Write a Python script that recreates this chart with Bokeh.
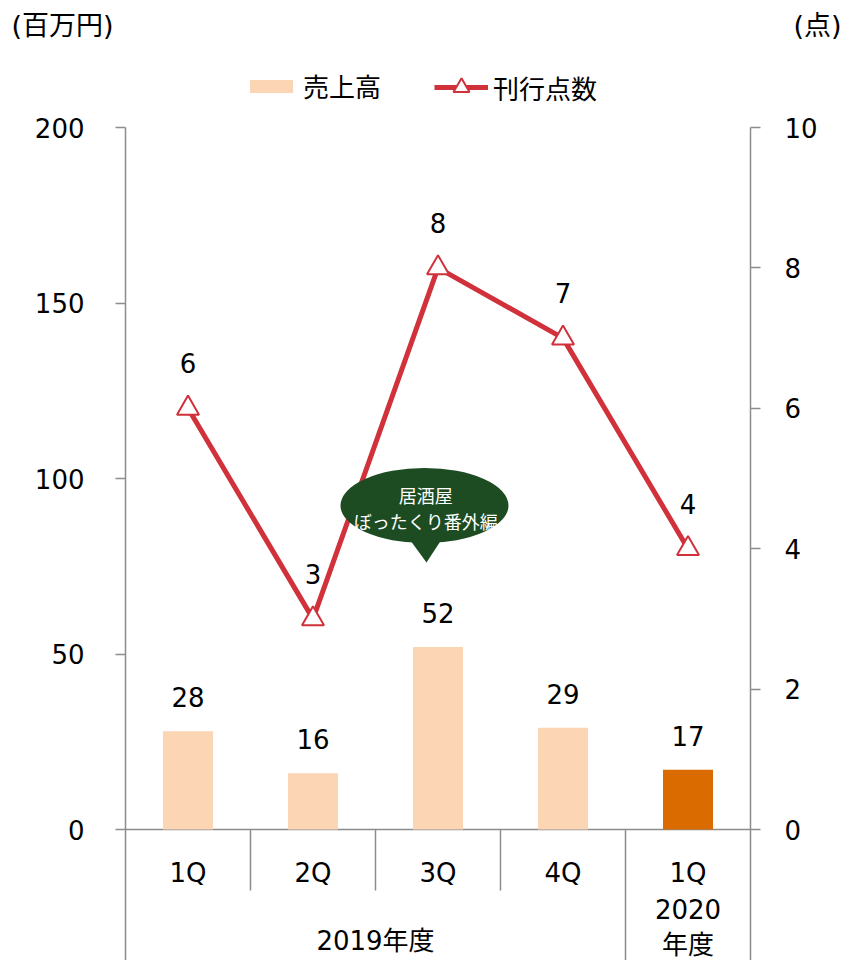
from bokeh.plotting import figure
from bokeh.layouts import column
from bokeh.models import (Range1d, LinearAxis, FixedTicker, Legend, LegendItem,
                          ColumnDataSource)
from bokeh.core.properties import value
from bokeh.embed import file_html
from bokeh.resources import INLINE
import numpy as np

# ---------------- data ----------------
quarters = ["1Q", "2Q", "3Q", "4Q", "1Q"]
fiscal_years = ["2019年度", "2020\n年度"]
fiscal_year_spans = [(0, 4), (4, 5)]          # quarter index ranges per fiscal year
sales = [28, 16, 52, 29, 17]                  # 売上高 (百万円)
titles = [6, 3, 8, 7, 4]                      # 刊行点数 (点)
left_ticks = [0, 50, 100, 150, 200]
right_ticks = [0, 2, 4, 6, 8, 10]
callout_lines = ["居酒屋", "ぼったくり番外編"]
unit_left = "(百万円)"
unit_right = "(点)"

# ---------------- styles ----------------
FONT = "DejaVu Sans, Noto Sans CJK JP"
FS = "26px"
BAR = "#FCD5B5"
BAR_HI = "#D96B00"
RED = "#D0313A"
GREEN = "#1D4B22"
GRAY = "#8C8C8C"

W = 844
TOP_H = 50
MAIN_H = 910
BL, BR = 125, W - 750           # frame borders
PX = 3.51                       # px per unit of the left axis
ZERO_Y = 779                    # screen y of value 0 inside main figure
Y0 = -(MAIN_H - ZERO_Y) / PX
Y1 = 200 + (ZERO_Y - 200 * PX) / PX
R_SCALE = 20.0

n = len(quarters)
xs = np.arange(n) + 0.5
bar_colors = [BAR] * (n - 1) + [BAR_HI]

src = ColumnDataSource(dict(
    x=xs, sales=sales, titles=titles, color=bar_colors,
    sales_lbl=[str(v) for v in sales], titles_lbl=[str(v) for v in titles],
    q=quarters,
))

# ---------------- top strip with unit labels (as axis labels) ----------------
top = figure(width=W, height=TOP_H, x_range=Range1d(0, 1), y_range=Range1d(0, 1),
             output_backend="svg", toolbar_location=None, title=None,
             x_axis_location=None, y_axis_location=None,
             min_border_left=BL, min_border_right=BR, min_border_top=0, min_border_bottom=0)
top.outline_line_color = None
top.grid.grid_line_color = None

def unit_axis(label, standoff):
    ax = LinearAxis(ticker=FixedTicker(ticks=[]), axis_label=label,
                    axis_label_orientation="horizontal", axis_label_standoff=standoff)
    ax.axis_line_color = None
    ax.major_tick_out = 0
    ax.minor_tick_out = 0
    ax.major_tick_in = 0
    ax.minor_tick_in = 0
    ax.major_label_text_font_size = "0px"
    ax.axis_label_text_font = FONT
    ax.axis_label_text_font_size = "27px"
    ax.axis_label_text_font_style = "normal"
    ax.axis_label_text_color = "black"
    return ax

top.add_layout(unit_axis(unit_left, 12), "left")
top.add_layout(unit_axis(unit_right, 43), "right")

# ---------------- main chart ----------------
p = figure(width=W, height=MAIN_H, x_range=Range1d(0, n), y_range=Range1d(Y0, Y1),
           output_backend="svg", toolbar_location=None, title=None,
           x_axis_location=None, y_axis_location=None,
           min_border_left=BL, min_border_right=BR, min_border_top=0, min_border_bottom=0)
p.extra_y_ranges = {"right": Range1d(Y0 / R_SCALE, Y1 / R_SCALE)}
p.outline_line_color = None
p.grid.grid_line_color = None

def style_axis(ax, standoff):
    ax.axis_line_color = GRAY
    ax.axis_line_width = 1.5
    ax.major_tick_line_color = GRAY
    ax.major_tick_line_width = 1.5
    ax.major_tick_in = 0
    ax.major_tick_out = 10
    ax.minor_tick_in = 0
    ax.minor_tick_out = 0
    ax.major_label_text_font = FONT
    ax.major_label_text_font_size = FS
    ax.major_label_text_color = "black"
    ax.major_label_standoff = standoff

left = LinearAxis(bounds=(Y0, 200), ticker=FixedTicker(ticks=left_ticks))
style_axis(left, 31)
p.add_layout(left, "left")
right = LinearAxis(y_range_name="right", bounds=(Y0 / R_SCALE, 10),
                   ticker=FixedTicker(ticks=right_ticks))
style_axis(right, 24)
p.add_layout(right, "right")

# category axis lines
p.segment(x0=[0], y0=[0], x1=[n], y1=[0], line_color=GRAY, line_width=1.5)
sep_short = [i for i in range(1, n) if all(i != s[0] for s in fiscal_year_spans)]
p.segment(x0=sep_short, y0=[0] * len(sep_short), x1=sep_short,
          y1=[-61 / PX] * len(sep_short), line_color=GRAY, line_width=1.5)
sep_long = [s[0] for s in fiscal_year_spans if s[0] > 0]
p.segment(x0=sep_long, y0=[0] * len(sep_long), x1=sep_long,
          y1=[Y0] * len(sep_long), line_color=GRAY, line_width=1.5)

# bars
bar_r = p.vbar(x="x", top="sales", width=0.4, fill_color="color", line_color=None, source=src)
p.text(x="x", y="sales", text="sales_lbl", source=src, y_offset=-34,
       text_align="center", text_baseline="middle", text_font=value(FONT),
       text_font_size=FS, text_color="black")

# line
line_r = p.line(x="x", y="titles", source=src, y_range_name="right",
                line_color=RED, line_width=5)
mark_r = p.scatter(x="x", y="titles", source=src, y_range_name="right",
                   marker="triangle", size=22, fill_color="white",
                   line_color=RED, line_width=2)
p.text(x="x", y="titles", text="titles_lbl", source=src, y_range_name="right",
       y_offset=-45, text_align="center", text_baseline="middle", text_font=value(FONT),
       text_font_size=FS, text_color="black")

# category labels
p.text(x="x", y=-43 / PX, text="q", source=src, text_align="center",
       text_baseline="middle", text_font=value(FONT), text_font_size=FS, text_color="black")
fy_x = [(a + b) / 2 for a, b in fiscal_year_spans]
p.text(x=fy_x, y=[-111 / PX, -98 / PX], text=fiscal_years, text_align="center",
       text_baseline="middle", text_font=value(FONT), text_font_size=FS,
       text_color="black", text_line_height=1.17)

# callout
cx, cy = 2.392, 324 / PX
p.patch(x=[cx - 0.136, cx + 0.152, cx + 0.016], y=[cy - 31 / PX, cy - 31 / PX, cy - 57 / PX],
        fill_color=GREEN, line_color=None)
p.ellipse(x=[cx], y=[cy], width=168, height=75, width_units="screen",
          height_units="screen", fill_color=GREEN, line_color=None)
p.text(x=[cx + 0.01] * 2, y=[cy + 11 / PX, cy - 15 / PX], text=callout_lines,
       text_align="center", text_baseline="middle", text_font=value("Noto Sans CJK JP"),
       text_font_size="18px", text_color="white")

common = dict(orientation="horizontal", glyph_width=54, label_text_font=FONT,
              label_text_font_size=FS, label_text_color="black",
              border_line_color=None, background_fill_alpha=0,
              padding=0, margin=0, label_standoff=5)
leg1 = Legend(items=[LegendItem(label="売上高", renderers=[bar_r], index=0)],
              location=(119, 856), glyph_height=16, **common)
leg2 = Legend(items=[LegendItem(label="刊行点数", renderers=[line_r, mark_r])],
              location=(309, 853), glyph_height=40, **common)
p.add_layout(leg1)
p.add_layout(leg2)

layout = column(top, p, spacing=0)
open("out.html", "w").write(file_html(layout, INLINE))
